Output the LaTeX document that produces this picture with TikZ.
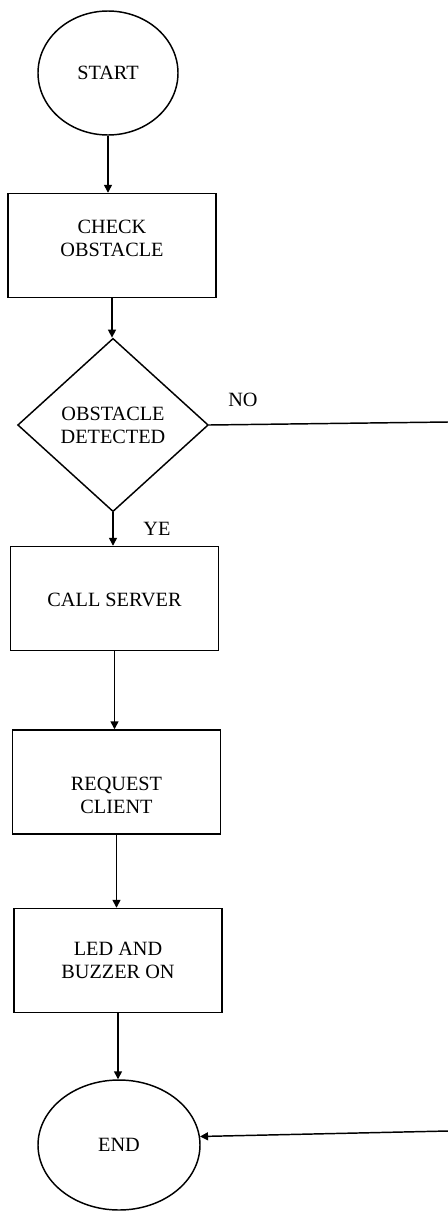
\documentclass[tikz,border=0pt]{standalone}
\usepackage{fontspec}
\setmainfont{Liberation Serif}
\usetikzlibrary{shapes.geometric,arrows.meta}
\tikzset{
  every node/.style={font=\fontsize{15.2}{17.25}\selectfont},
  shape line/.style={draw=black,line width=1.1pt},
  terminal/.style={shape line,ellipse,inner sep=0pt},
  procbox/.style={shape line,rectangle,inner sep=0pt,minimum width=156pt,minimum height=78pt},
  decision/.style={shape line,diamond,inner sep=0pt,minimum width=143pt,minimum height=130pt,align=center},
  boxtext/.style={align=center,inner sep=0pt},
  flow/.style={draw=black,line width=1.1pt,-{Triangle[length=6pt,width=6pt]}},
  plainline/.style={draw=black,line width=1.1pt},
}
\begin{document}
\begin{tikzpicture}[x=0.75pt,y=-0.75pt]
  \useasboundingbox (0,0) rectangle (448,1211);

  % terminals
  \node[terminal,minimum width=105pt,minimum height=93pt] (start) at (108,73) {START};
  \node[terminal,minimum width=121.5pt,minimum height=97.5pt] (end) at (119,1145) {END};

  % process steps
  \node[procbox,label={[boxtext,yshift=5pt]center:{CHECK\\OBSTACLE}}] (check) at (112,245.5) {};
  \node[decision] (detect) at (113,425) {OBSTACLE\\DETECTED};
  \node[procbox,label={[boxtext,yshift=-1pt]center:CALL SERVER}] (call) at (114.5,598.5) {};
  \node[procbox,label={[boxtext,yshift=-10pt]center:{REQUEST\\CLIENT}}] (request) at (116.5,782) {};
  \node[procbox,label={[boxtext]center:{LED AND\\BUZZER ON}}] (led) at (118,960.5) {};

  % branch labels
  \node[inner sep=0pt] (nolbl) at (243,400) {NO};
  \node[inner sep=0pt] (yeslbl) at (157,529) {YE};

  % loose ends of the NO branch at the right edge
  \coordinate (noout) at (448,422);
  \coordinate (noin) at (448,1131);

  % connectors
  \draw[flow] (start.south) -- (start.south |- check.north);
  \draw[flow] (check.south) -- (check.south |- detect.north);
  \draw[flow] (detect.south) -- (detect.south |- call.north);
  \draw[flow] (call.south) -- (call.south |- request.north);
  \draw[flow] (request.south) -- (request.south |- led.north);
  \draw[flow] (led.south) -- (led.south |- end.north);
  \draw[plainline] (detect.east) -- (noout);
  \draw[flow] (noin) -- (end.6);
\end{tikzpicture}
\end{document}
